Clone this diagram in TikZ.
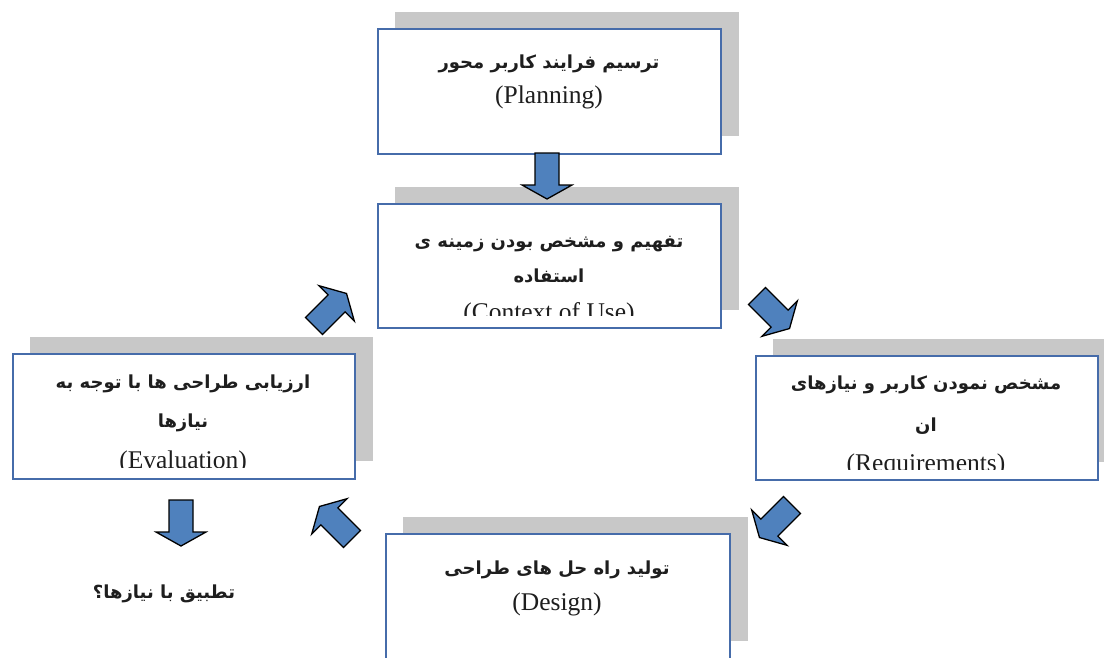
\documentclass[tikz,border=0pt]{standalone}
\usepackage{fontspec}
\setmainfont{Liberation Serif}
\newfontfamily\fa[Script=Arabic]{DejaVu Sans}
\TeXXeTstate=1
\usetikzlibrary{backgrounds}
\definecolor{boxblue}{RGB}{70,108,170}
\definecolor{shadowgray}{RGB}{200,200,200}
\definecolor{arrowblue}{RGB}{79,129,189}
\definecolor{txt}{RGB}{30,30,30}
\tikzset{
  box/.style={draw=boxblue, line width=1.6pt, fill=white, inner sep=0pt, anchor=north west},
  shade/.style={fill=shadowgray, draw=none},
  arrowfill/.style={fill=arrowblue, draw=black, line width=1.3pt, line join=miter},
  blockarrow/.pic={
    \draw[arrowfill] (0,-12) -- (32,-12) -- (32,-25) -- (46,0) -- (32,25) -- (32,12) -- (0,12) -- cycle;
  },
  fatext/.style={font=\fa\bfseries\fontsize{18}{22}\selectfont, text=txt, anchor=base, inner sep=0pt},
  entext/.style={font=\fontsize{25.5}{28}\selectfont, text=txt, anchor=base, inner sep=0pt},
}
\begin{document}
\begin{tikzpicture}[x=1pt,y=-1pt]
\useasboundingbox (0,0) rectangle (1104,657);
% boxes
\node[box, minimum width=343pt, minimum height=125pt] (plan) at (377,28) {};
\node[box, minimum width=343pt, minimum height=124pt] (ctx) at (377,203) {};
\node[box, minimum width=342pt, minimum height=124pt] (req) at (755,355) {};
\node[box, minimum width=342pt, minimum height=125pt] (eval) at (12,353) {};
\node[box, minimum width=344pt, minimum height=125pt] (des) at (385,533) {};
% shadows
\begin{scope}[on background layer]
\foreach \b in {plan,ctx,req,eval,des}{
  \fill[shade] ([shift={(18,-16)}]\b.north west) rectangle ([shift={(17,-19)}]\b.south east);
}
\end{scope}
% texts
\node[fatext] (plan1) at (549,68) {\beginR ترسیم فرایند کاربر محور\endR};
\node[entext] (plan2) at (549,103) {(Planning)};

\node[fatext] (ctx1) at (549,247) {\beginR تفهیم و مشخص بودن زمینه ی\endR};
\node[fatext] (ctx2) at (549,282) {\beginR استفاده\endR};
\begin{scope}
\clip (377,203) rectangle (720,315);
\node[entext] (ctx3) at (549,320) {(Context of Use)};
\end{scope}

\node[fatext] (req1) at (926,389) {\beginR مشخص نمودن کاربر و نیازهای\endR};
\node[fatext] (req2) at (926,431) {\beginR ان\endR};
\begin{scope}
\clip (755,355) rectangle (1097,469);
\node[entext] (req3) at (926,471) {(Requirements)};
\end{scope}

\node[fatext] (eval1) at (183,388) {\beginR ارزیابی طراحی ها با توجه به\endR};
\node[fatext] (eval2) at (183,427) {\beginR نیازها\endR};
\begin{scope}
\clip (12,353) rectangle (354,467);
\node[entext] (eval3) at (183,468) {(Evaluation)};
\end{scope}

\node[fatext] (des1) at (557,574) {\beginR تولید راه حل های طراحی\endR};
\node[entext] (des2) at (557,610) {(Design)};

\node[fatext] (q) at (164,598) {\beginR تطبیق با نیازها؟\endR};
% block arrows
\coordinate (a1) at (547,153);
\coordinate (a2) at (181,500);
\coordinate (a3) at (757,296);
\coordinate (a4) at (792,505);
\coordinate (a5) at (352,539);
\coordinate (a6) at (314,326);
\pic[rotate=-90] at (a1) {blockarrow};
\pic[rotate=-90] at (a2) {blockarrow};
\pic[rotate=-45] at (a3) {blockarrow};
\pic[rotate=-135] at (a4) {blockarrow};
\pic[rotate=135] at (a5) {blockarrow};
\pic[rotate=45] at (a6) {blockarrow};
\end{tikzpicture}
\end{document}
